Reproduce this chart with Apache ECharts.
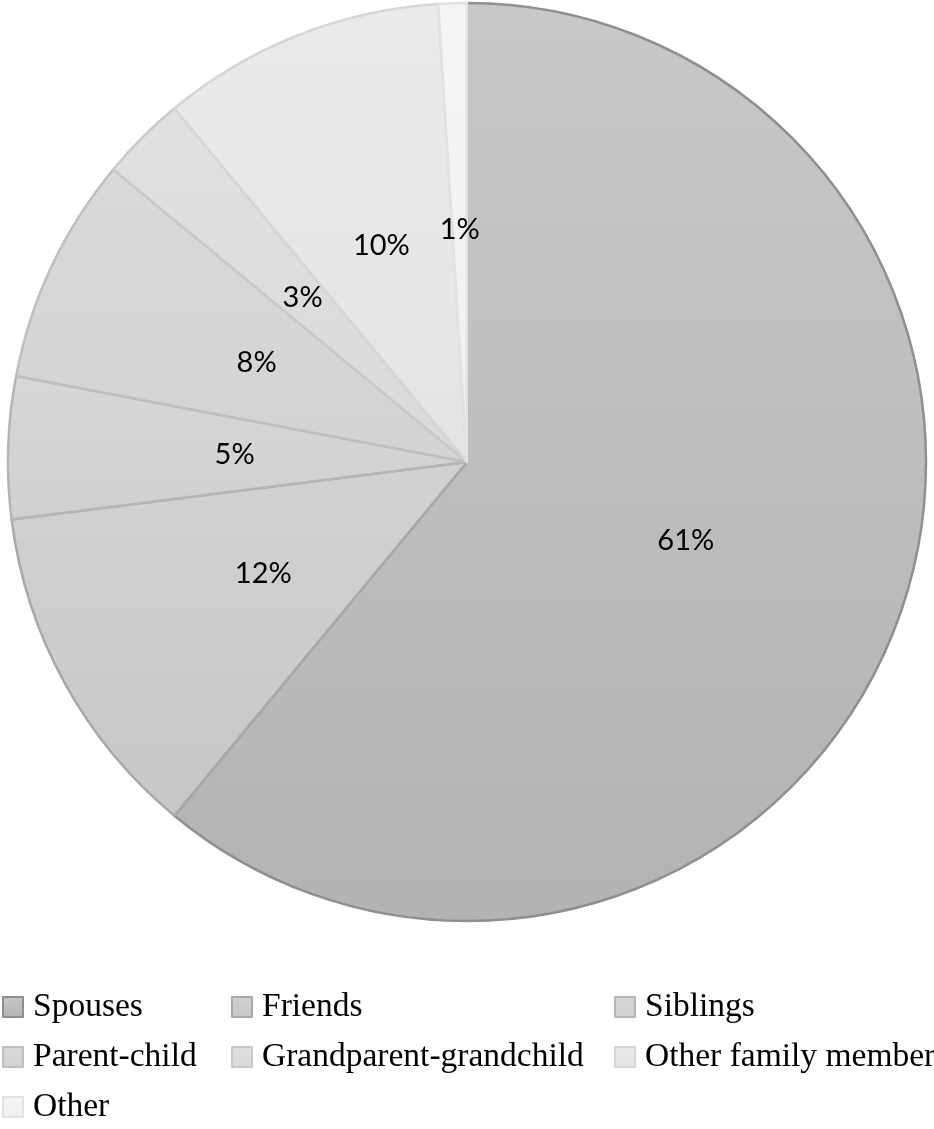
<!DOCTYPE html>
<html>
<head>
<meta charset="utf-8">
<script src="https://cdn.jsdelivr.net/npm/echarts@6/dist/echarts.min.js"></script>
<style>
  html, body { margin: 0; padding: 0; background: #fff; }
  #main { width: 934px; height: 1129px; }
</style>
</head>
<body>
<div id="main"></div>
<script>
// 关系类型 & 占比(%)
var categories = ['Spouses', 'Friends', 'Siblings', 'Parent-child',
  'Grandparent-grandchild', 'Other family member', 'Other'];
var shares = [61, 12, 5, 8, 3, 10, 1];

// 灰度渐变 (上 -> 下) 和边框颜色
var fillTop = ['#c8c8c8', '#d1d2d2', '#d6d7d7', '#d9d9d9', '#e0e0e0', '#eaeaea', '#f5f5f5'];
var fillBottom = ['#b3b3b3', '#c6c7c7', '#cfd0d0', '#d3d3d3', '#dadada', '#e4e4e4', '#f0f0f0'];
var borders = ['#8f8f8f', '#a9a9a9', '#b5b5b5', '#bfbfbf', '#c9c9c9', '#d6d6d6', '#e2e2e2'];

// 图例分列
var legendCols = [
  { left: 2, items: ['Spouses', 'Parent-child', 'Other'] },
  { left: 231, items: ['Friends', 'Grandparent-grandchild'] },
  { left: 614, items: ['Siblings', 'Other family member'] }
];

var myChart = echarts.init(document.getElementById('main'));

var pieData = categories.map(function (name, i) {
  return {
    name: name,
    value: shares[i],
    itemStyle: {
      color: new echarts.graphic.LinearGradient(0, 0, 0, 1, [
        { offset: 0, color: fillTop[i] },
        { offset: 1, color: fillBottom[i] }
      ]),
      borderColor: borders[i],
      borderWidth: 2.5
    }
  };
});

var legends = legendCols.map(function (col) {
  return {
    orient: 'vertical',
    left: col.left,
    top: 990,
    data: col.items,
    icon: 'rect',
    itemWidth: 20,
    itemHeight: 20,
    itemGap: 16,
    padding: 0,
    selectedMode: false,
    textStyle: {
      fontFamily: '"Liberation Serif", "Times New Roman", serif',
      fontSize: 33.5,
      lineHeight: 34,
      color: '#000',
      padding: [0, 0, 0, 5]
    }
  };
});

var option = {
  animation: false,
  legend: legends,
  series: [
    {
      type: 'pie',
      name: '关系',
      center: [467, 462],
      radius: [0, 459],
      startAngle: 90,
      clockwise: true,
      avoidLabelOverlap: false,
      data: pieData,
      label: {
        show: true,
        position: 'inside',
        formatter: '{c}%',
        fontFamily: 'Lato, "Open Sans", sans-serif',
        fontSize: 29,
        color: '#000'
      },
      labelLine: { show: false },
      emphasis: { disabled: true }
    }
  ]
};

myChart.setOption(option);
</script>
</body>
</html>
